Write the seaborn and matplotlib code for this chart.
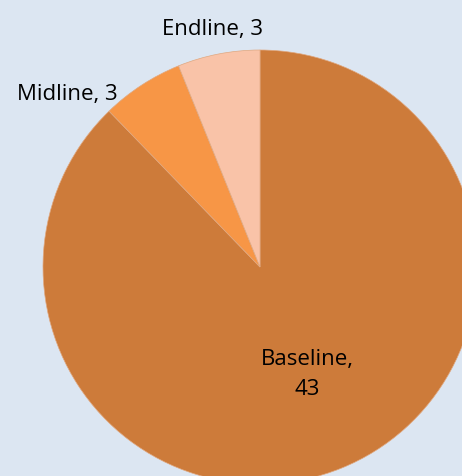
import matplotlib
matplotlib.use("Agg")
import matplotlib.pyplot as plt
import seaborn as sns

categories = ["Baseline", "Midline", "Endline"]
values = [43, 3, 3]
colors = ["#CD7B3A", "#F79646", "#F9C3A8"]

sns.set_theme(style="white")
plt.rcParams["font.family"] = ["Open Sans", "DejaVu Sans"]

fig = plt.figure(figsize=(4.62, 4.77), dpi=100)
fig.patch.set_facecolor("#DCE6F2")
ax = fig.add_axes([0, 0, 1, 1])
ax.set_facecolor("#DCE6F2")

wedges, texts = ax.pie(values, colors=colors, startangle=90, counterclock=False,
                       radius=1.0, center=(0, 0),
                       wedgeprops=dict(linewidth=0.5, edgecolor="#E0A880"))

label_pos = {"Baseline": (0.217, -0.49), "Midline": (-0.889, 0.80), "Endline": (-0.217, 1.10)}
for cat, val in zip(categories, values):
    txt = f"{cat},\n{val}" if cat == "Baseline" else f"{cat}, {val}"
    x, y = label_pos[cat]
    ax.text(x, y, txt, ha="center", va="center", fontsize=16, color="#000000",
            linespacing=1.55)

s = 217.0
ax.set_xlim(-260 / s, (462 - 260) / s)
ax.set_ylim(-(477 - 268) / s, 268 / s)
ax.set_aspect("auto")
ax.axis("off")

fig.savefig("out.png", dpi=100, facecolor=fig.get_facecolor())
